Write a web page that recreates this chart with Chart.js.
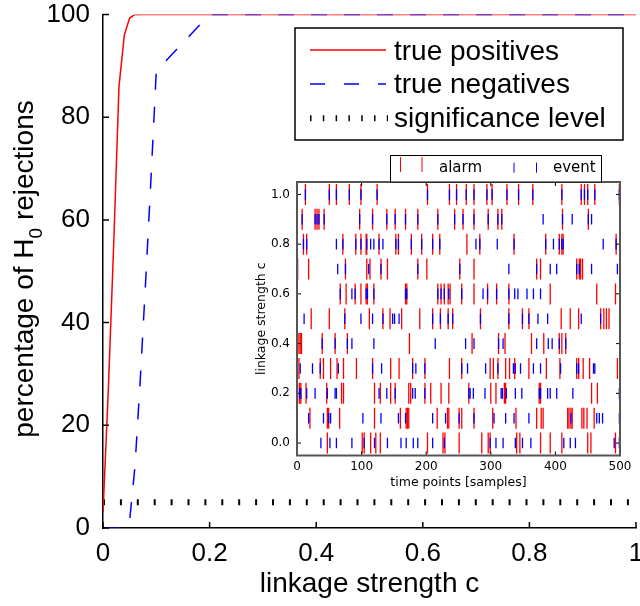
<!DOCTYPE html>
<html>
<head>
<meta charset="utf-8">
<script src="https://cdn.jsdelivr.net/npm/chart.js@4.4.0/dist/chart.umd.min.js"></script>
<style>
  html, body { margin: 0; padding: 0; background: #fff; }
  #wrap { position: relative; width: 640px; height: 606px; }
  #mainChart { position: absolute; left: 0; top: 0; }
  #insetChart { position: absolute; left: 240px; top: 150px; }
</style>
</head>
<body>
<div id="wrap">
  <canvas id="mainChart" width="640" height="606"></canvas>
  <canvas id="insetChart" width="395" height="345"></canvas>
</div>
<script>
// main plot: rejection rates vs linkage strength
const linkage = [0, 0.01, 0.02, 0.03, 0.04, 0.05, 0.06, 0.07, 0.08, 0.09, 0.1, 0.2, 0.3, 0.4, 0.5, 0.6, 0.7, 0.8, 0.9, 1.0];
const truePositives = [3, 27, 55, 86, 96, 99.3, 100, 100, 100, 100, 100, 100, 100, 100, 100, 100, 100, 100, 100, 100];
const trueNegatives = [0, 0, 0, 0, 0, 1.5, 12, 29, 48, 68, 89, 100, 100, 100, 100, 100, 100, 100, 100, 100];
const sigX = [0, 1];
const sigLevel = [5, 5];
const xTicks = [0, 0.2, 0.4, 0.6, 0.8, 1];
const yTicks = [0, 20, 40, 60, 80, 100];

// inset: alarm / event times per linkage strength
const rowLevels = [1.0, 0.9, 0.8, 0.7, 0.6, 0.5, 0.4, 0.3, 0.2, 0.1, 0.0];
const alarmTimes = [
  [13, 50, 61, 81, 99, 124, 202, 236, 247, 262, 274, 294, 302, 325, 343, 365, 410, 440, 445, 450, 461, 499],
  [8, 28, 31, 34, 42, 97, 117, 139, 152, 168, 187, 218, 244, 257, 274, 296, 311, 317, 411, 451],
  [10, 15, 71, 91, 99, 107, 108, 127, 153, 157, 177, 193, 210, 221, 263, 283, 336, 385, 406, 410, 412, 494],
  [1, 18, 75, 108, 113, 130, 140, 187, 201, 252, 274, 371, 377, 433, 437, 439, 442],
  [67, 76, 90, 99, 107, 109, 119, 168, 170, 218, 223, 228, 234, 237, 255, 274, 295, 309, 328, 392, 464, 493],
  [22, 50, 74, 112, 133, 144, 162, 190, 210, 222, 234, 241, 284, 328, 349, 359, 409, 423, 436, 470, 475, 479, 483],
  [3, 5, 7, 39, 59, 78, 174, 271, 312, 322, 363, 382, 406, 410, 416],
  [3, 36, 41, 52, 62, 72, 92, 117, 145, 158, 179, 198, 236, 255, 299, 304, 311, 323, 329, 337, 359, 386, 407, 433, 436, 443, 453, 496],
  [1, 4, 6, 14, 46, 69, 72, 120, 129, 145, 152, 173, 176, 198, 207, 223, 235, 266, 300, 308, 321, 323, 375, 377, 456, 465],
  [20, 47, 49, 66, 120, 160, 169, 171, 173, 217, 233, 235, 251, 255, 274, 303, 339, 371, 378, 381, 419, 421, 424, 426, 441, 444, 449, 460],
  [47, 101, 104, 114, 122, 129, 202, 226, 229, 251, 286, 296, 299, 340, 345, 377, 392, 410, 450, 455, 493]
];
const eventTimes = [
  [13, 50, 61, 81, 99, 124, 202, 236, 247, 262, 274, 294, 302, 325, 343, 365, 410, 440, 445, 450, 461, 499],
  [8, 28, 31, 34, 42, 97, 117, 139, 152, 168, 187, 218, 244, 257, 274, 296, 311, 317, 381, 411, 426, 451, 456],
  [10, 15, 61, 71, 91, 99, 108, 114, 119, 127, 133, 153, 157, 177, 193, 210, 221, 277, 283, 310, 336, 385, 397, 406, 410, 412, 474, 494],
  [63, 75, 111, 130, 187, 252, 328, 371, 392, 402, 433, 437, 456, 496],
  [67, 85, 90, 107, 109, 119, 168, 170, 218, 223, 228, 235, 255, 288, 295, 309, 328, 337, 342, 356, 366, 377],
  [11, 74, 99, 117, 133, 148, 151, 158, 210, 222, 234, 241, 284, 328, 349, 359, 373, 388, 440, 470],
  [39, 59, 78, 85, 119, 214, 261, 274, 312, 319, 371, 389, 395, 406, 416],
  [5, 24, 36, 64, 117, 131, 179, 184, 198, 255, 264, 292, 311, 335, 338, 346, 366, 377, 408, 433, 436, 459, 461],
  [4, 6, 15, 28, 47, 59, 61, 127, 139, 152, 179, 183, 198, 266, 268, 273, 291, 316, 318, 324, 338, 348, 375, 377, 388, 392, 402, 427, 499],
  [18, 41, 49, 52, 102, 130, 157, 168, 210, 230, 251, 274, 305, 323, 336, 359, 424, 464, 468, 473, 499],
  [37, 51, 61, 85, 104, 120, 140, 161, 169, 180, 187, 210, 228, 299, 308, 319, 338, 349, 362, 413, 423, 431, 491, 499]
];
const insetXTicks = [0, 100, 200, 300, 400, 500];
const insetYTicks = [0, 0.2, 0.4, 0.6, 0.8, 1.0];

const MAIN_FONT = 'Liberation Sans, Arial, sans-serif';
const INSET_FONT = 'DejaVu Sans, sans-serif';

function toPoints(xs, ys) {
  return xs.map((x, i) => ({ x: x, y: ys[i] }));
}

function rasterPoints(times) {
  const pts = [];
  rowLevels.forEach((c, i) => {
    times[i].forEach(t => pts.push({ x: t, y: c }));
  });
  return pts;
}

// ticks, titles and legend of the main plot
const mainDecor = {
  id: 'mainDecor',
  afterDraw(chart) {
    const ctx = chart.ctx;
    const a = chart.chartArea;
    const x = chart.scales.x, y = chart.scales.y;
    ctx.save();

    // inward ticks
    ctx.strokeStyle = '#000';
    ctx.lineWidth = 1.5;
    ctx.beginPath();
    xTicks.forEach(v => {
      const p = x.getPixelForValue(v);
      ctx.moveTo(p, a.bottom);
      ctx.lineTo(p, a.bottom - 6);
    });
    yTicks.forEach(v => {
      const p = y.getPixelForValue(v);
      ctx.moveTo(a.left, p);
      ctx.lineTo(a.left + 6, p);
    });
    ctx.stroke();

    // x title
    ctx.fillStyle = '#000';
    ctx.font = '28px ' + MAIN_FONT;
    ctx.textAlign = 'center';
    ctx.textBaseline = 'alphabetic';
    ctx.fillText('linkage strength c', (a.left + a.right) / 2, 592);

    // y title with subscript
    const big = '28px ' + MAIN_FONT, small = '19px ' + MAIN_FONT;
    ctx.font = big;
    const w1 = ctx.measureText('percentage of H').width;
    const w3 = ctx.measureText(' rejections').width;
    ctx.font = small;
    const w2 = ctx.measureText('0').width;
    const total = w1 + w2 + w3;
    ctx.save();
    ctx.translate(33, 269);
    ctx.rotate(-Math.PI / 2);
    ctx.textAlign = 'left';
    let cx = -total / 2;
    ctx.font = big;
    ctx.fillText('percentage of H', cx, 0);
    cx += w1;
    ctx.font = small;
    ctx.fillText('0', cx, 9);
    cx += w2;
    ctx.font = big;
    ctx.fillText(' rejections', cx, 0);
    ctx.restore();

    // legend
    ctx.fillStyle = '#fff';
    ctx.fillRect(295, 28, 328, 112);
    ctx.strokeStyle = '#000';
    ctx.lineWidth = 1.5;
    ctx.strokeRect(295, 28, 328, 112);

    ctx.lineWidth = 1.5;
    ctx.strokeStyle = '#ff0000';
    ctx.beginPath(); ctx.moveTo(310, 50); ctx.lineTo(386, 50); ctx.stroke();

    ctx.strokeStyle = '#0000ff';
    ctx.setLineDash([15, 19]);
    ctx.beginPath(); ctx.moveTo(310, 84); ctx.lineTo(386, 84); ctx.stroke();

    ctx.strokeStyle = '#000';
    ctx.lineWidth = 6;
    ctx.setLineDash([1.5, 11.3]);
    ctx.beginPath(); ctx.moveTo(310, 118.3); ctx.lineTo(388, 118.3); ctx.stroke();
    ctx.setLineDash([]);

    ctx.fillStyle = '#000';
    ctx.font = '28px ' + MAIN_FONT;
    ctx.textAlign = 'left';
    ctx.fillText('true positives', 394, 60);
    ctx.fillText('true negatives', 394, 93.3);
    ctx.fillText('significance level', 394, 126.7);

    ctx.restore();
  }
};

new Chart(document.getElementById('mainChart'), {
  type: 'line',
  data: {
    datasets: [
      {
        label: 'true positives',
        data: toPoints(linkage, truePositives),
        borderColor: '#ff0000',
        borderWidth: 1.5,
        pointRadius: 0,
        tension: 0,
        order: 1
      },
      {
        label: 'true negatives',
        data: toPoints(linkage, trueNegatives),
        borderColor: '#0000ff',
        borderWidth: 1.5,
        borderDash: [16, 17],
        pointRadius: 0,
        tension: 0,
        order: 0
      },
      {
        label: 'significance level',
        data: toPoints(sigX, sigLevel),
        borderColor: '#000',
        borderWidth: 6,
        borderDash: [2, 14.9],
        borderCapStyle: 'butt',
        pointRadius: 0,
        tension: 0,
        order: 2
      }
    ]
  },
  options: {
    responsive: false,
    animation: false,
    events: [],
    layout: { padding: { top: 14.5, right: 4, bottom: 0, left: 0 } },
    plugins: { legend: { display: false }, tooltip: { enabled: false } },
    scales: {
      x: {
        type: 'linear',
        min: 0,
        max: 1,
        grid: { display: false, drawTicks: false },
        border: { display: true, color: '#000', width: 1.5 },
        afterBuildTicks: s => { s.ticks = xTicks.map(v => ({ value: v })); },
        ticks: {
          color: '#000',
          font: { family: MAIN_FONT, size: 26 },
          padding: 10,
          maxRotation: 0,
          autoSkip: false,
          callback: v => String(v)
        },
        afterFit: s => { s.height = 78; s.paddingLeft = 0; s.paddingRight = 0; }
      },
      y: {
        type: 'linear',
        min: 0,
        max: 100,
        grid: { display: false, drawTicks: false },
        border: { display: true, color: '#000', width: 1.5 },
        afterBuildTicks: s => { s.ticks = yTicks.map(v => ({ value: v })); },
        ticks: {
          color: '#000',
          font: { family: MAIN_FONT, size: 26 },
          padding: 13,
          autoSkip: false,
          callback: v => String(v)
        },
        afterFit: s => { s.width = 103; s.paddingTop = 0; s.paddingBottom = 0; }
      }
    }
  },
  plugins: [mainDecor]
});

// frame, ticks, titles and legend of the inset
const insetDecor = {
  id: 'insetDecor',
  afterDraw(chart) {
    const ctx = chart.ctx;
    const a = chart.chartArea;
    const x = chart.scales.x, y = chart.scales.y;
    ctx.save();

    ctx.strokeStyle = '#000';
    ctx.lineWidth = 1;
    ctx.beginPath();
    insetXTicks.forEach(v => {
      const p = x.getPixelForValue(v);
      ctx.moveTo(p, a.bottom); ctx.lineTo(p, a.bottom - 4);
      ctx.moveTo(p, a.top); ctx.lineTo(p, a.top + 4);
    });
    insetYTicks.forEach(v => {
      const p = y.getPixelForValue(v);
      ctx.moveTo(a.left, p); ctx.lineTo(a.left + 4, p);
      ctx.moveTo(a.right, p); ctx.lineTo(a.right - 4, p);
    });
    ctx.stroke();

    ctx.strokeStyle = '#555';
    ctx.lineWidth = 2;
    ctx.strokeRect(a.left, a.top, a.right - a.left, a.bottom - a.top);

    // axis titles
    ctx.fillStyle = '#000';
    ctx.font = '12.5px ' + INSET_FONT;
    ctx.textAlign = 'center';
    ctx.textBaseline = 'alphabetic';
    ctx.fillText('time points [samples]', (a.left + a.right) / 2, 335.5);
    ctx.save();
    ctx.translate(25, (a.top + a.bottom) / 2);
    ctx.rotate(-Math.PI / 2);
    ctx.fillText('linkage strength c', 0, 0);
    ctx.restore();

    // legend box
    ctx.fillStyle = '#fff';
    ctx.fillRect(150, 5, 211, 27);
    ctx.strokeStyle = '#000';
    ctx.lineWidth = 1;
    ctx.strokeRect(150.5, 5.5, 211, 26.5);

    ctx.lineWidth = 1;
    ctx.strokeStyle = '#ff0000';
    ctx.beginPath();
    ctx.moveTo(160.5, 7); ctx.lineTo(160.5, 22);
    ctx.moveTo(182, 7); ctx.lineTo(182, 22);
    ctx.stroke();
    ctx.strokeStyle = '#0000ff';
    ctx.beginPath();
    ctx.moveTo(274, 12.7); ctx.lineTo(274, 22.7);
    ctx.moveTo(296.5, 12.7); ctx.lineTo(296.5, 22.7);
    ctx.stroke();

    ctx.fillStyle = '#000';
    ctx.font = '15px ' + INSET_FONT;
    ctx.textAlign = 'left';
    ctx.fillText('alarm', 199, 21.5);
    ctx.fillText('event', 313, 21.5);

    ctx.restore();
  }
};

new Chart(document.getElementById('insetChart'), {
  type: 'scatter',
  data: {
    datasets: [
      {
        label: 'event',
        data: rasterPoints(eventTimes),
        pointStyle: 'line',
        pointRotation: 90,
        pointRadius: 5.3,
        pointHoverRadius: 5.3,
        pointBorderColor: '#0000ff',
        pointBorderWidth: 1.3,
        showLine: false,
        order: 0
      },
      {
        label: 'alarm',
        data: rasterPoints(alarmTimes),
        pointStyle: 'line',
        pointRotation: 90,
        pointRadius: 10.5,
        pointHoverRadius: 10.5,
        pointBorderColor: '#ff0000',
        pointBorderWidth: 1.3,
        showLine: false,
        order: 1
      }
    ]
  },
  options: {
    responsive: false,
    animation: false,
    events: [],
    layout: { padding: { top: 32, right: 15, bottom: 0, left: 0 } },
    plugins: { legend: { display: false }, tooltip: { enabled: false } },
    scales: {
      x: {
        type: 'linear',
        min: 0,
        max: 500,
        grid: { display: false, drawTicks: false },
        border: { display: false },
        afterBuildTicks: s => { s.ticks = insetXTicks.map(v => ({ value: v })); },
        ticks: {
          color: '#000',
          font: { family: INSET_FONT, size: 12 },
          padding: 4,
          maxRotation: 0,
          autoSkip: false,
          callback: v => String(v)
        },
        afterFit: s => { s.height = 39.5; s.paddingLeft = 0; s.paddingRight = 0; }
      },
      y: {
        type: 'linear',
        min: -0.05,
        max: 1.05,
        grid: { display: false, drawTicks: false },
        border: { display: false },
        afterBuildTicks: s => { s.ticks = insetYTicks.map(v => ({ value: v })); },
        ticks: {
          color: '#000',
          font: { family: INSET_FONT, size: 12 },
          padding: 7,
          autoSkip: false,
          callback: v => v.toFixed(1)
        },
        afterFit: s => { s.width = 57; s.paddingTop = 0; s.paddingBottom = 0; }
      }
    }
  },
  plugins: [insetDecor]
});
</script>
</body>
</html>
